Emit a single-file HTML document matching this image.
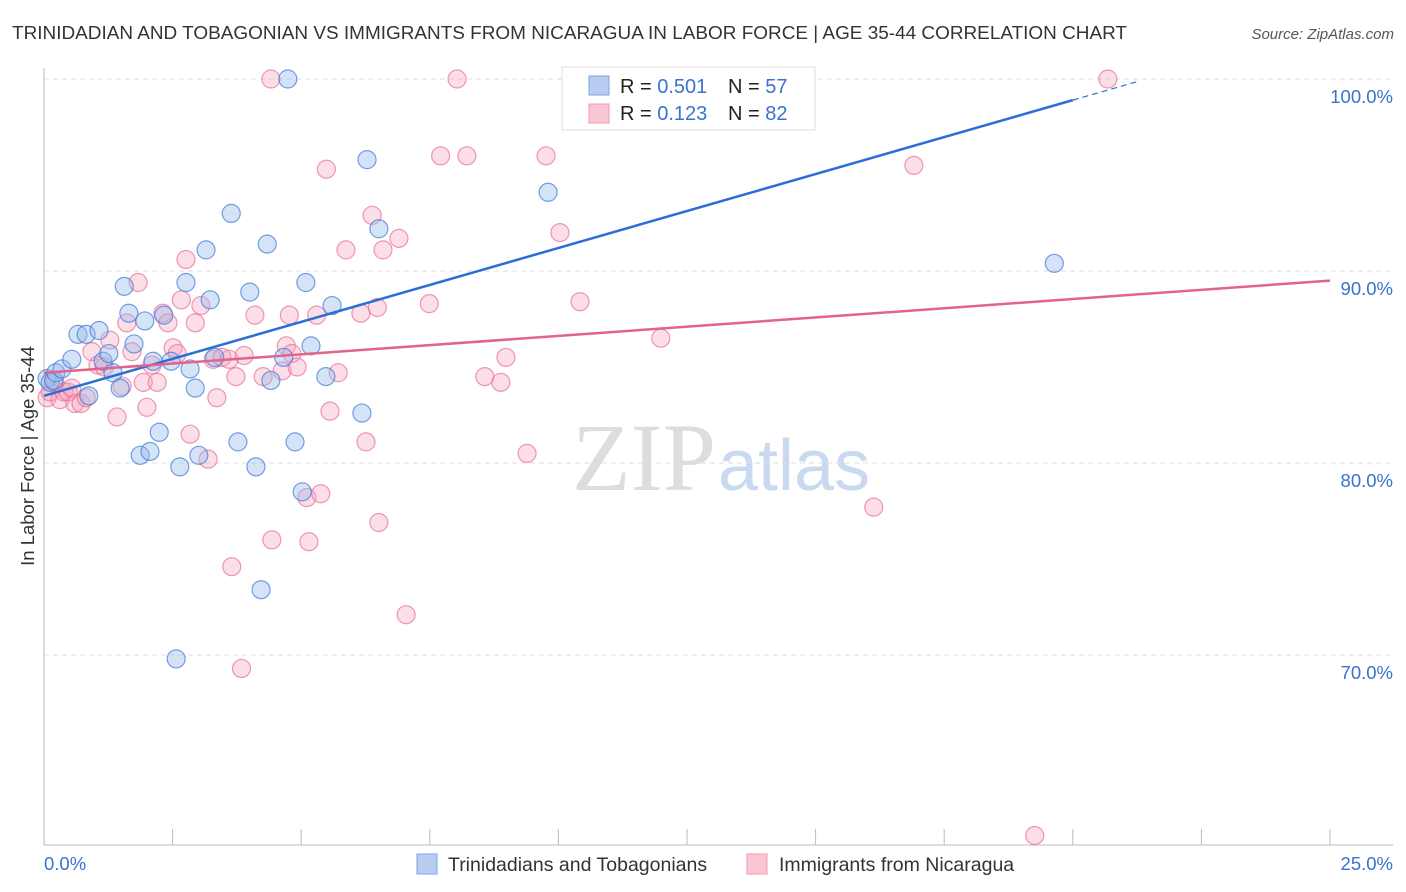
<!DOCTYPE html>
<html><head><meta charset="utf-8"><style>
body{margin:0;background:#fff;font-family:"Liberation Sans",sans-serif;}
#wrap{position:relative;width:1406px;height:892px;overflow:hidden;}
</style></head><body>
<div id="wrap">
<svg id="svg" width="1406" height="892" xmlns="http://www.w3.org/2000/svg">
<text x="12" y="39" font-size="18" fill="#333" textLength="1115" lengthAdjust="spacingAndGlyphs">TRINIDADIAN AND TOBAGONIAN VS IMMIGRANTS FROM NICARAGUA IN LABOR FORCE | AGE 35-44 CORRELATION CHART</text>
<text x="1394" y="39" font-size="15" fill="#555" font-style="italic" text-anchor="end">Source: ZipAtlas.com</text>
<text x="716" y="490" font-size="96" fill="#ddd" text-anchor="end" font-family="Liberation Serif,serif">ZIP</text>
<text x="718" y="490" font-size="72" fill="#c9d9f0">atlas</text>
<g id="grid"></g><g id="axes"></g><g id="pts"></g><g id="lines"></g>
<g>
<rect x="562" y="67" width="253" height="63" fill="#fff" stroke="#ddd"/>
<rect x="589" y="76" width="20" height="19" fill="#b8cdf0" stroke="#7fa3e0"/>
<rect x="589" y="104" width="20" height="19" fill="#fbc6d4" stroke="#f09ab3"/>
<text x="620" y="93" font-size="20" fill="#222">R = <tspan fill="#3a72d0">0.501</tspan></text>
<text x="728" y="93" font-size="20" fill="#222">N = <tspan fill="#3a72d0">57</tspan></text>
<text x="620" y="120" font-size="20" fill="#222">R = <tspan fill="#3a72d0"> 0.123</tspan></text>
<text x="728" y="120" font-size="20" fill="#222">N = <tspan fill="#3a72d0">82</tspan></text>
</g>
<g>
<rect x="417" y="854" width="20" height="20" fill="#b8cdf0" stroke="#7fa3e0"/>
<text x="448" y="871" font-size="19.5" fill="#333">Trinidadians and Tobagonians</text>
<rect x="747" y="854" width="20" height="20" fill="#fbc6d4" stroke="#f09ab3"/>
<text x="779" y="871" font-size="19.5" fill="#333">Immigrants from Nicaragua</text>
</g>
<text x="34" y="456" font-size="18.5" fill="#333" text-anchor="middle" transform="rotate(-90 34 456)">In Labor Force | Age 35-44</text>
</svg>
</div>
<script>
const NS="http://www.w3.org/2000/svg";
const yTicks=[100,90,80,70];
const yTickLabels=["100.0%","90.0%","80.0%","70.0%"];
const xTicks=[0,2.5,5,7.5,10,12.5,15,17.5,20,22.5,25];
const xEndLabels=["0.0%","25.0%"];
const blueX=[0.06,0.12,0.19,0.23,0.35,0.54,0.66,0.82,0.87,1.07,1.15,1.26,1.34,1.48,1.56,1.65,1.75,1.87,1.96,2.06,2.12,2.24,2.33,2.47,2.57,2.64,2.76,2.84,2.94,3.01,3.15,3.23,3.32,3.64,3.77,4.0,4.12,4.22,4.34,4.41,4.66,4.74,4.88,5.02,5.09,5.19,5.48,5.6,6.18,6.28,6.51,9.8,19.64,13.28,13.69,12.52,10.79];
const blueY=[84.4,84.2,84.3,84.7,84.9,85.4,86.7,86.7,83.5,86.9,85.3,85.7,84.7,83.9,89.2,87.8,86.2,80.4,87.4,80.6,85.3,81.6,87.7,85.3,69.8,79.8,89.4,84.9,83.9,80.4,91.1,88.5,85.5,93.0,81.1,88.9,79.8,73.4,91.4,84.3,85.5,100,81.1,78.5,89.4,86.1,84.5,88.2,82.6,95.8,92.2,94.1,90.4,98.3,99.9,97.9,100];
const pinkX=[0.06,0.12,0.21,0.31,0.39,0.47,0.54,0.6,0.72,0.82,0.93,1.05,1.17,1.28,1.42,1.52,1.61,1.71,1.83,1.93,2.0,2.1,2.2,2.31,2.41,2.51,2.59,2.67,2.76,2.84,2.94,3.05,3.19,3.29,3.36,3.46,3.6,3.65,3.73,3.84,3.89,4.1,4.26,4.41,4.43,4.63,4.71,4.77,4.82,4.92,5.11,5.15,5.3,5.38,5.49,5.56,5.72,5.87,6.16,6.26,6.38,6.48,6.51,6.59,6.9,7.04,7.49,7.71,8.03,8.22,8.57,8.88,8.98,9.39,9.76,10.03,10.42,11.99,16.13,16.91,19.26,20.68];
const pinkY=[83.4,83.7,84.2,83.3,83.7,83.7,83.9,83.1,83.1,83.4,85.8,85.1,85.0,86.4,82.4,84.0,87.3,85.8,89.4,84.2,82.9,85.1,84.2,87.8,87.3,86.0,85.7,88.5,90.6,81.5,87.3,88.2,80.2,85.4,83.4,85.5,85.4,74.6,84.5,69.3,85.6,87.7,84.5,100,76.0,84.8,86.1,87.7,85.7,85.0,78.2,75.9,87.7,78.4,95.3,82.7,84.7,91.1,87.8,81.1,92.9,88.1,76.9,91.1,91.7,72.1,88.3,96.0,100,96.0,84.5,84.2,85.5,80.5,96.0,92.0,88.4,86.5,77.7,95.5,60.6,100];
const blueFit=[83.5,0.77];
const pinkFit=[84.7,0.192];
const X=v=>44+v/25*1286;
const Y=v=>79+(100-v)*19.2;
function mk(tag,attrs,parent){const e=document.createElementNS(NS,tag);for(const k in attrs)e.setAttribute(k,attrs[k]);document.getElementById(parent).appendChild(e);return e;}
yTicks.forEach((t,i)=>{
 const l=mk('line',{x1:44,x2:1393,y1:Y(t),y2:Y(t),stroke:'#ddd','stroke-dasharray':'5,4'},'grid');
 
 
 const tx=mk('text',{x:1393,y:Y(t)+24,'font-size':18.5,fill:'#3a72d0','text-anchor':'end'},'axes');
 tx.textContent=yTickLabels[i];
 
 
});
const ax=mk('line',{x1:44,x2:44,y1:68,y2:845,stroke:'#bbb'},'axes');


const bx=mk('line',{x1:44,x2:1393,y1:845,y2:845,stroke:'#bbb'},'axes');


xTicks.forEach(t=>{
 const l=mk('line',{x1:X(t),x2:X(t),y1:829,y2:845,stroke:'#bbb'},'axes');
 
 
});
[[0,'start',44],[25,'end',1393]].forEach((d,i)=>{
 const tx=mk('text',{x:d[2],y:870,'font-size':18.5,fill:'#3a72d0','text-anchor':d[1]},'axes');
 tx.textContent=xEndLabels[i];
 
 
});
pinkX.forEach((v,i)=>{
 const c=mk('circle',{cx:X(v),cy:Y(pinkY[i]),r:9,fill:'rgba(247,160,185,0.35)',stroke:'rgba(232,110,150,0.7)','stroke-width':1.2},'pts');
 
 
});
blueX.forEach((v,i)=>{
 const c=mk('circle',{cx:X(v),cy:Y(blueY[i]),r:9,fill:'rgba(150,185,235,0.4)',stroke:'rgba(60,120,215,0.7)','stroke-width':1.2},'pts');
 
 
});
const bl=mk('line',{x1:X(0),y1:Y(blueFit[0]),x2:X(20),y2:Y(blueFit[0]+blueFit[1]*20),stroke:'#2b6fd6','stroke-width':2.5},'lines');


const bd=mk('line',{x1:X(20),y1:Y(blueFit[0]+blueFit[1]*20),x2:X(21.3),y2:Y(blueFit[0]+blueFit[1]*21.3),stroke:'#2b6fd6','stroke-width':1.2,'stroke-dasharray':'6,4'},'lines');


const pl=mk('line',{x1:X(0),y1:Y(pinkFit[0]),x2:X(25),y2:Y(pinkFit[0]+pinkFit[1]*25),stroke:'#e4628e','stroke-width':2.5},'lines');


</script>
</body></html>
